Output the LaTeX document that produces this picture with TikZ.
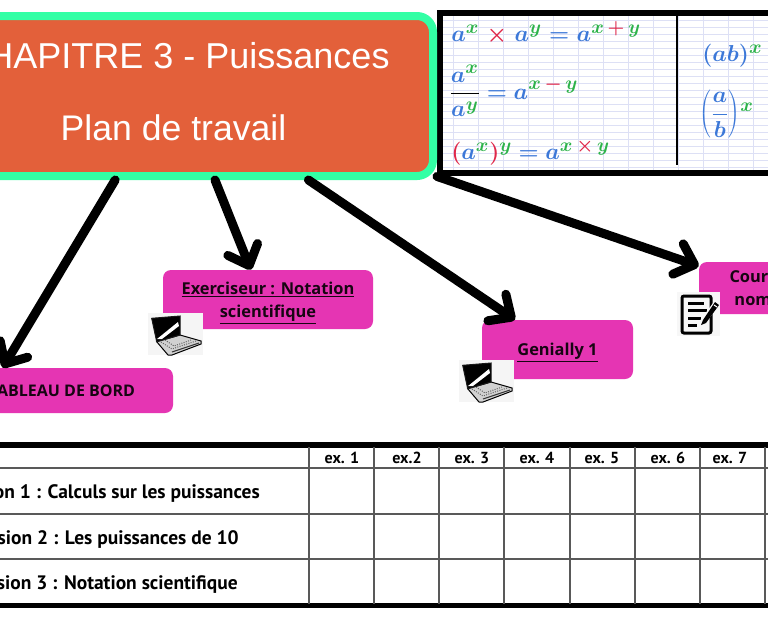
\documentclass[tikz,border=0pt]{standalone}
\usepackage{fontspec}
\setmainfont{Open Sans}
\newfontfamily\titrefont{Liberation Sans}
\newfontfamily\tabfont{PT Sans}
\usetikzlibrary{arrows.meta}
\DeclareMathSizes{19}{19}{15}{11}
\definecolor{orangetitre}{HTML}{E3603A}
\definecolor{vertbord}{HTML}{33FFA5}
\definecolor{rose}{HTML}{E535B3}
\definecolor{bleuf}{HTML}{3C78D8}
\definecolor{vertf}{HTML}{2DB34A}
\definecolor{rougef}{HTML}{E0284A}
\definecolor{quadrille}{HTML}{DDE0F5}
\newcommand{\ba}[1]{\textcolor{bleuf}{#1}}
\newcommand{\ve}[1]{\textcolor{vertf}{#1}}
\newcommand{\ro}[1]{\textcolor{rougef}{#1}}
\def\px{0.75pt}
\tikzset{
  titrebox/.style={draw=vertbord,fill=orangetitre,line width=8*\px,rounded corners=16*\px,minimum width=518*\px,minimum height=160*\px},
  titretxt/.style={text=white,font=\titrefont\fontsize{27}{32}\selectfont},
  rosebox/.style={fill=rose,rounded corners=8*\px,align=center,inner sep=0pt,text=black!90!rose,font=\bfseries\fontsize{12.3}{17.5}\selectfont},
  fleche/.style={line width=9*\px,line cap=round,line join=round,-{Straight Barb[length=13pt,width=24pt,round]}},
  formule/.style={anchor=west,inner sep=0pt,font=\boldmath\fontsize{19}{24}\selectfont},
  entete/.style={font=\tabfont\bfseries\fontsize{12}{14}\selectfont,inner sep=0pt},
  ligne/.style={anchor=east,font=\tabfont\bfseries\fontsize{14.6}{16}\selectfont,inner sep=0pt},
  pics/portable/.style={code={
    \fill[black!4] (0,0) rectangle (55,42);
    \draw[black,fill=black!18,line width=1*\px] (8.7,28.7) -- (32,22) -- (53,28) -- (53,31) -- (24,42) -- (20,42) -- cycle;
    \draw[black!60,line width=1*\px,densely dotted] (13,29) -- (24,36) -- (48,28);
    \draw[black!60,line width=1*\px,densely dotted] (17,27) -- (26,33) -- (43,27);
    \draw[black!80,line width=1*\px] (24,39) -- (51,30);
    \draw[black!90,fill=black,line width=1*\px] (3.7,5.3) -- (32,3) -- (32,22) -- (8.7,28.7) -- cycle;
    \fill[white] (9,26) -- (30,9) -- (31,13) -- (14,26) -- cycle;
  }},
  pics/fiche/.style={code={
    \fill[black!3] (0,0) rectangle (43,44);
    \draw[black,line width=3*\px,rounded corners=2*\px] (5,4) rectangle (34,41);
    \foreach \yl/\xl in {11/27,18/30,26/24,33/20}
      \draw[black,line width=3*\px] (11,\yl) -- (\xl,\yl);
    \draw[black!3,line width=6*\px] (25,31) -- (39,12);
    \fill[black] (24,33) -- (26,28) -- (38,10) -- (42,13) -- (29,31) -- cycle;
    \draw[white,line width=1*\px] (37,13) -- (40,15);
  }}
}
\begin{document}
\begin{tikzpicture}[x=\px,y=-\px]
\useasboundingbox (0,0) rectangle (768,619);
\clip (0,0) rectangle (768,619);
\fill[white] (0,0) rectangle (768,619);
\foreach \yg in {20,27,...,170}
  \draw[quadrille,line width=.6*\px] (443,\yg) -- (768,\yg);
\foreach \xg in {453,478,...,768}
  \draw[quadrille,line width=.8*\px] (\xg,15) -- (\xg,171);
\draw[black,line width=5.5*\px] (440,13) rectangle (790,173);
\draw[black,line width=1.5*\px] (677,15) -- (677,165);
\node[formule] (f1) at (451,33) {$\ba{a}^{\ve{x}}\;\ro{\times}\;\ba{a}^{\ve{y}}\;\ba{=}\;\ba{a}^{\ve{x}\,\ro{+}\,\ve{y}}$};
\node[formule] (f2) at (449,91) {$\displaystyle\frac{\ba{a}^{\ve{x}}}{\ba{a}^{\ve{y}}}\ \ba{=}\ \ba{a}^{\ve{x}\,\ro{-}\,\ve{y}}$};
\node[formule] (f3) at (451,152) {$\ro{(}\ba{a}^{\ve{x}}\ro{)}^{\ve{y}}\ \ba{=}\ \ba{a}^{\ve{x}\,\ro{\times}\,\ve{y}}$};
\node[formule] (f4) at (702,56) {$\ba{(ab)}^{\ve{x}}$};
\node[formule] (f5) at (699,114) {$\ba{\left(\displaystyle\frac{a}{b}\right)}^{\ve{x}}$};
\node[titrebox] (titre) at (174,96) {};
\node[titretxt] (titre1) at (175.5,56) {CHAPITRE 3 - Puissances};
\node[titretxt,font=\titrefont\fontsize{26.7}{32}\selectfont] (titre2) at (173.5,128) {Plan de travail};
\node[rosebox,font=\bfseries\fontsize{12}{17.5}\selectfont,minimum width=222*\px,minimum height=45*\px] (tableau) at (62,390.5) {TABLEAU DE BORD};
\node[rosebox,minimum width=210*\px,minimum height=59*\px] (exo) at (268,299.5) {\rule{0pt}{14.5pt}\underline{Exerciseur : Notation}\\\underline{scientifique}};
\node[rosebox,minimum width=151*\px,minimum height=59*\px] (genially) at (557.5,349.5) {\rule{0pt}{13.5pt}\underline{Genially 1}};
\node[rosebox,minimum width=108*\px,minimum height=52*\px] (cours) at (753,288) {Cours\\nom};
\pic at (148,313) {portable};
\pic at (459,360) {portable};
\pic at (677,292) {fiche};
\draw [fleche] (titre.235) -- (tableau.159);
\draw [fleche] (titre.-64.5) -- (exo.120);
\draw [fleche] (titre.-32.7) -- (genially.145);
\draw [fleche] (titre.-17.6) -- (cours.158);
\draw[black,line width=5.5*\px] (-5,445) -- (775,445);
\draw[black,line width=5.5*\px] (-5,605.5) -- (775,605.5);
\foreach \yr in {468,514,559}
  \draw[black!65,line width=1.2*\px] (0,\yr) -- (768,\yr);
\foreach \xc in {309,374,439,504,570,635,700,765}
  \draw[black!65,line width=1.2*\px] (\xc,447) -- (\xc,604);
\foreach \xe/\te/\ne in {342/ex. 1/e1,407/ex.2/e2,472/ex. 3/e3,537/ex. 4/e4,602/ex. 5/e5,668/ex. 6/e6,730/ex. 7/e7}
  \node[entete] (\ne) at (\xe,458) {\te};
\node[ligne] (m1) at (260,493) {Mission 1 : Calculs sur les puissances};
\node[ligne] (m2) at (239,539) {Mission 2 : Les puissances de 10};
\node[ligne] (m3) at (238,584.5) {Mission 3 : Notation scientifique};
\end{tikzpicture}
\end{document}
